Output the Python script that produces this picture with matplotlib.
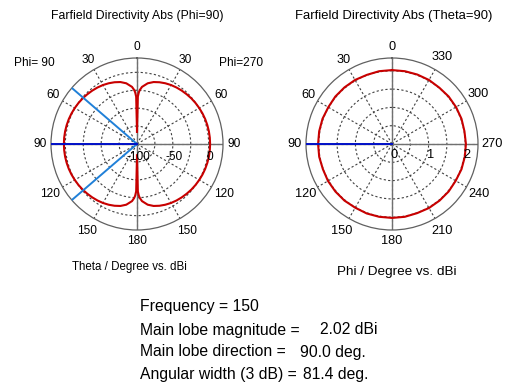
import numpy as np
import matplotlib
matplotlib.use("Agg")
import matplotlib.pyplot as plt
from matplotlib.transforms import offset_copy

# --- data -----------------------------------------------------------------
# theta cut (Phi=90 on the left half, Phi=270 mirrored on the right half)
theta_deg = [0, 1, 2, 3, 5, 10, 15, 20, 25, 30, 35, 40, 45, 50, 55, 60, 65,
             70, 75, 80, 85, 90, 95, 100, 105, 110, 115, 120, 125, 130, 135,
             140, 145, 150, 155, 160, 165, 170, 175, 177, 178, 179, 180]
theta_dbi = [-83, -34, -28, -24.5, -20, -14, -10.5, -8.3, -6.5, -5.0, -3.8,
             -2.8, -1.9, -1.0, -0.3, 0.3, 0.85, 1.3, 1.6, 1.85, 1.97, 2.02,
             1.97, 1.85, 1.6, 1.3, 0.85, 0.3, -0.3, -1.0, -1.9, -2.8, -3.8,
             -5.0, -6.5, -8.3, -10.5, -14, -20, -24.5, -28, -34, -84]

# phi cut at theta=90
phi_deg = list(range(0, 361, 10))
phi_dbi = [2.02, 2.02, 2.01, 2.02, 2.02, 2.02, 2.01, 2.02, 2.02, 2.02,
           2.02, 2.01, 2.02, 2.02, 2.02, 2.01, 2.02, 2.02, 2.02, 2.02,
           2.01, 2.02, 2.02, 2.02, 2.01, 2.02, 2.02, 2.02, 2.01, 2.02,
           2.02, 2.02, 2.01, 2.02, 2.02, 2.02, 2.02]

main_dir = 90.0
beam_width = 81.4

grid_angles = [0, 30, 60, 90, 120, 150, 180, 210, 240, 270, 300, 330]
left_tick_labels = ["0", "30", "60", "90", "120", "150", "180",
                    "150", "120", "90", "60", "30"]
right_tick_labels = ["0", "30", "60", "90", "120", "150", "180",
                     "210", "240", "270", "300", "330"]

left_rings = [-75, -50, -25, 0]
left_rlabels = [-100, -50, 0]
right_rings = [0.5, 1.0, 1.5, 2.0]
right_rlabels = [0, 1, 2]

info_labels = ["Frequency = 150", "Main lobe magnitude =",
               "Main lobe direction =", "Angular width (3 dB) ="]
info_values = ["", "2.02 dBi", "90.0 deg.", "81.4 deg."]

# --- style -----------------------------------------------------------------
RED = "#c80000"
DARK_BLUE = "#0010c8"
LIGHT_BLUE = "#2080d8"
GRID = "#404040"
plt.rcParams["font.family"] = ["Liberation Sans", "DejaVu Sans"]

W, H, DPI = 513, 383, 100
R_PX = 86


def make_polar(fig, cx, cy, rmin, rmax, rings, tick_labels, fs):
    ax = fig.add_axes([(cx - R_PX) / W, (H - cy - R_PX) / H,
                       2 * R_PX / W, 2 * R_PX / H], projection="polar")
    ax.set_theta_zero_location("N")
    ax.set_theta_direction(1)
    ax.set_ylim(rmin, rmax)
    ax.set_xticks(np.radians(grid_angles))
    ax.set_xticklabels([])
    ax.set_yticks(rings)
    ax.set_yticklabels([])
    ax.xaxis.grid(True, color=GRID, lw=0.8, ls=(0, (2, 2)))
    ax.yaxis.grid(True, color=GRID, lw=0.8, ls=(0, (2, 2)))
    ax.spines["polar"].set_color("#606060")
    ax.spines["polar"].set_linewidth(0.9)
    for a in [0, 90, 180, 270]:
        ax.axvline(np.radians(a), color="#707070", lw=1.0, zorder=2)
    lab_r = rmax + (rmax - rmin) * 11 / R_PX
    for a, lab in zip(grid_angles, tick_labels):
        extra = (rmax - rmin) * (3 if len(lab) == 3 and a % 180 else 0) / R_PX
        ax.text(np.radians(a), lab_r + extra, lab, ha="center", va="center",
                fontsize=fs, clip_on=False)
    return ax


fig = plt.figure(figsize=(W / DPI, H / DPI), dpi=DPI)

# left: theta cut
axl = make_polar(fig, 137, 144, -100, 20, left_rings, left_tick_labels, 8.6)
t = np.radians(theta_deg)
axl.plot(t, theta_dbi, color=RED, lw=1.5, zorder=4)
axl.plot(2 * np.pi - t, theta_dbi, color=RED, lw=1.5, zorder=4)
for a in [main_dir - beam_width / 2, main_dir + beam_width / 2]:
    axl.plot([np.radians(a)] * 2, [-100, 20], color=LIGHT_BLUE, lw=1.4, zorder=5)
axl.plot([np.radians(main_dir)] * 2, [-100, 20], color=DARK_BLUE, lw=1.4, zorder=5)
off = offset_copy(axl.transData, fig=fig, x=1, y=-13, units="dots")
for v in left_rlabels:
    axl.text(np.radians(270), v, str(v), ha="center", va="center",
             fontsize=8.6, transform=off, zorder=6)

# right: phi cut
axr = make_polar(fig, 392, 144, 0, 2.35, right_rings, right_tick_labels, 9.2)
axr.plot(np.radians(phi_deg), phi_dbi, color=RED, lw=1.5, zorder=4)
axr.plot([np.radians(main_dir)] * 2, [0, 2.35], color=DARK_BLUE, lw=1.4, zorder=5)
off = offset_copy(axr.transData, fig=fig, x=2, y=-11, units="dots")
for v in right_rlabels:
    axr.text(np.radians(270), v, str(v), ha="center", va="center",
             fontsize=9.2, transform=off, zorder=6)


# titles and captions (pixel positions -> figure fraction)
def ftext(x, y, s, size, ha="center"):
    fig.text(x / W, 1 - y / H, s, ha=ha, va="center", fontsize=size)


ftext(137, 16, "Farfield Directivity Abs (Phi=90)", 8.8)
ftext(394, 16, "Farfield Directivity Abs (Theta=90)", 9.4)
ftext(34, 63, "Phi= 90", 8.6)
ftext(241, 63, "Phi=270", 8.6)
ftext(129, 267, "Theta / Degree vs. dBi", 8.3)
ftext(397, 272, "Phi / Degree vs. dBi", 9.7)

rows_y = [307, 330, 352, 374]
val_x = [0, 320, 300, 303]
for y, lab, val, vx in zip(rows_y, info_labels, info_values, val_x):
    ftext(140, y, lab, 11.3, ha="left")
    if val:
        ftext(vx, y, val, 11.3, ha="left")

fig.savefig("out.png", dpi=DPI)
